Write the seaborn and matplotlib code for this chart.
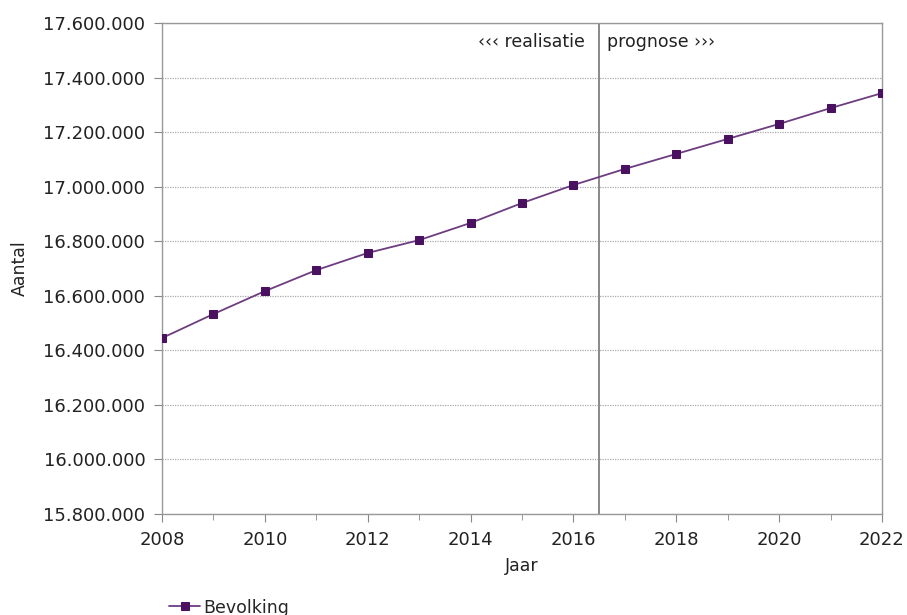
import matplotlib
matplotlib.use('Agg')
import matplotlib.pyplot as plt
import seaborn as sns
import pandas as pd
from matplotlib.ticker import FuncFormatter, MultipleLocator

# Data
jaren = [2008, 2009, 2010, 2011, 2012, 2013, 2014, 2015,
         2016, 2017, 2018, 2019, 2020, 2021, 2022]
bevolking = [16445000, 16533000, 16617000, 16694000, 16757000, 16804000,
             16867000, 16940000, 17006000, 17065000, 17120000, 17175000,
             17230000, 17288000, 17343000]

df = pd.DataFrame({'Jaar': jaren, 'Bevolking': bevolking})

sns.set_style('white')
plt.rcParams['font.family'] = ['DejaVu Sans']

fig = plt.figure(figsize=(9.07, 6.15), dpi=100)
ax = fig.add_axes([162 / 907, 1 - 514 / 615, 720 / 907, 491 / 615])

sns.lineplot(data=df, x='Jaar', y='Bevolking', ax=ax, color='#6e3d80',
             linewidth=1.3, marker='s', markersize=6, markerfacecolor='#4a1160',
             markeredgecolor='#4a1160', label='Bevolking', zorder=3)

ax.set_xlim(2008, 2022)
ax.set_ylim(15800000, 17600000)
ax.set_xticks(range(2008, 2023, 2))
ax.xaxis.set_minor_locator(MultipleLocator(1))
ax.set_yticks(range(15800000, 17600001, 200000))
ax.yaxis.set_major_formatter(FuncFormatter(lambda v, p: f'{v:,.0f}'.replace(',', '.')))
ax.grid(axis='y', color='#aaaaaa', linestyle=(0, (1, 1)), linewidth=0.9)
ax.grid(axis='x', visible=False)

for s in ax.spines.values():
    s.set_color('#999999')
    s.set_linewidth(1.0)
ax.tick_params(axis='both', labelsize=13, colors='#222222', length=6,
               direction='out', color='#888888', bottom=True, left=True)
ax.tick_params(axis='y', pad=6)
ax.tick_params(axis='x', pad=6)
ax.tick_params(axis='x', which='minor', length=4, color='#888888', bottom=True)

ax.axvline(2016.5, color='#808080', linewidth=1.3)
ax.annotate('‹‹‹ realisatie', xy=(2016.5, 17530000), xytext=(-10, 0),
            textcoords='offset points', ha='right', va='center',
            fontsize=12.5, color='#222222')
ax.annotate('prognose ›››', xy=(2016.5, 17530000), xytext=(6, 0),
            textcoords='offset points', ha='left', va='center',
            fontsize=12.5, color='#222222')

ax.set_xlabel('Jaar', fontsize=12.5, color='#222222', labelpad=6)
ax.set_ylabel('Aantal', fontsize=12.5, color='#222222', labelpad=10)

ax.legend(loc='upper left', bbox_to_anchor=(0.0, -0.158), frameon=False,
          fontsize=12.5, handlelength=1.8, handletextpad=0.15, borderaxespad=0)

fig.savefig('out.png', dpi=100)
